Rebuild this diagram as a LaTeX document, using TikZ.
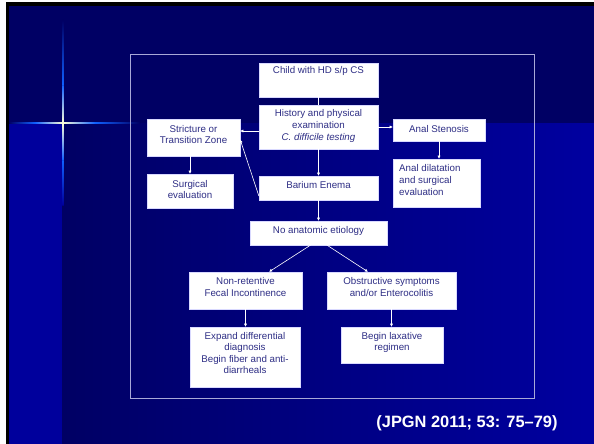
\documentclass[tikz,border=0pt]{standalone}
\usepackage{fontspec}
\setmainfont{Liberation Sans}
\usetikzlibrary{arrows.meta}
\definecolor{bgdark}{HTML}{000064}
\definecolor{bgbright}{HTML}{00009C}
\definecolor{bgright}{HTML}{0000A0}
\definecolor{txtcol}{HTML}{2E2E85}
\definecolor{framecol}{HTML}{A8A8D8}
\definecolor{starblue}{HTML}{1060FF}
\definecolor{starwhite}{HTML}{FFFFD8}
\begin{document}
\begin{tikzpicture}[x=1pt,y=-1pt,
  box/.style={rectangle, fill=white, draw=white!85!blue, line width=0.3pt, inner sep=0pt},
  txt/.style={inner sep=0pt, align=center, text=txtcol, font=\fontsize{9.75}{11.6}\selectfont},
  conn/.style={draw=white, line width=0.6pt},
  arr/.style={conn, -{Latex[length=3.2pt,width=3.2pt]}}]
\useasboundingbox (0,0) rectangle (594,444);
% background
\fill[white] (0,0) rectangle (594,444);
\fill[black] (6,2) rectangle (594,444);
\fill[bgdark] (9,6) rectangle (594,123);
\fill[bgbright] (9,123) rectangle (62,444);
\shade[left color=bgdark, right color=bgright] (62,123) rectangle (594,444);
% star flare
\shade[left color=bgdark, right color=starblue] (9,122.3) rectangle (35,123.7);
\shade[left color=starblue, right color=starwhite] (35,122.3) rectangle (63,123.7);
\shade[left color=starwhite, right color=starblue] (63,122.3) rectangle (95,123.7);
\shade[left color=starblue, right color=bgdark] (95,122.3) rectangle (140,123.7);
\shade[top color=bgdark, bottom color=starblue] (62.3,20) rectangle (63.7,85);
\shade[top color=starblue, bottom color=starwhite] (62.3,85) rectangle (63.7,123);
\shade[top color=starwhite, bottom color=starblue] (62.3,123) rectangle (63.7,160);
\shade[top color=starblue, bottom color=bgbright] (62.3,160) rectangle (63.7,205);
% frame
\draw[framecol, line width=0.8pt] (130,54) rectangle (534,398);
% boxes
\node[box, minimum width=119pt, minimum height=34pt] (child) at (318.5,80) {};
\node[box, minimum width=119pt, minimum height=44pt] (hist) at (318.5,127) {};
\node[box, minimum width=93pt, minimum height=37pt] (strict) at (193.5,137.5) {};
\node[box, minimum width=86pt, minimum height=34pt] (surg) at (190,191) {};
\node[box, minimum width=119pt, minimum height=24pt] (barium) at (318.5,188) {};
\node[box, minimum width=92pt, minimum height=22pt] (sten) at (439,130) {};
\node[box, minimum width=87pt, minimum height=48pt] (dilat) at (436.5,183) {};
\node[box, minimum width=137pt, minimum height=24pt] (noanat) at (318.5,233) {};
\node[box, minimum width=113pt, minimum height=37pt] (nonret) at (245.5,290.5) {};
\node[box, minimum width=129pt, minimum height=37pt] (obstr) at (391.5,290.5) {};
\node[box, minimum width=110pt, minimum height=60pt] (expand) at (245,357) {};
\node[box, minimum width=102pt, minimum height=36pt] (lax) at (392,345) {};
% texts
\node[txt] (child-t) at ([yshift=9pt]child.center) {Child with HD s/p CS};
\node[txt] (hist-t) at ([yshift=1pt]hist.center) {History and physical\\examination\\\textit{C. difficile testing}};
\node[txt] (strict-t) at ([yshift=3pt]strict.center) {Stricture or\\Transition Zone};
\node[txt] (surg-t) at ([yshift=1.5pt]surg.center) {Surgical\\evaluation};
\node[txt] (barium-t) at ([yshift=3pt]barium.center) {Barium Enema};
\node[txt] (sten-t) at ([yshift=1pt]sten.center) {Anal Stenosis};
\node[txt, align=left, anchor=west] (dilat-t) at (399,180) {Anal dilatation\\and surgical\\evaluation};
\node[txt] (noanat-t) at ([yshift=2pt]noanat.center) {No anatomic etiology};
\node[txt] (nonret-t) at ([yshift=3.5pt]nonret.center) {Non-retentive\\Fecal Incontinence};
\node[txt] (obstr-t) at ([yshift=3.5pt]obstr.center) {Obstructive symptoms\\and/or Enterocolitis};
\node[txt] (expand-t) at ([yshift=4pt]expand.center) {Expand differential\\diagnosis\\Begin fiber and anti-\\diarrheals};
\node[txt] (lax-t) at ([yshift=2.5pt]lax.center) {Begin laxative\\regimen};
% connector end points
\coordinate (hs) at ([yshift=-4pt]hist.west);
\coordinate (bs) at ([yshift=-8pt]barium.west);
\coordinate (se) at ([yshift=-2pt]strict.east);
\coordinate (nl) at ([xshift=-8pt]noanat.south);
\coordinate (nr) at ([xshift=8.5pt]noanat.south);
\coordinate (nrt) at ([xshift=23.5pt]nonret.north);
\coordinate (obt) at ([xshift=-23.5pt]obstr.north);
% connectors
\draw[conn] (child.south) -- (hist.north);
\draw[arr] (hs) -- (strict.east |- hs);
\draw[arr] (hist.east) -- (sten.west |- hist.east);
\draw[arr] (hist.south) -- (barium.north);
\draw[arr] (bs) -- (se);
\draw[arr] (surg.north |- strict.south) -- (surg.north);
\draw[arr] (sten.south) -- (sten.south |- dilat.north);
\draw[arr] (barium.south) -- (noanat.north);
\draw[arr] (nl) -- (nrt);
\draw[arr] (nr) -- (obt);
\draw[arr] (nonret.south) -- (nonret.south |- expand.north);
\draw[arr] (obstr.south) -- (obstr.south |- lax.north);
% citation
\node[inner sep=0pt, text=white, font=\bfseries\fontsize{16.4}{18}\selectfont] (cite) at (467,423) {(JPGN 2011; 53: 75–79)};
\end{tikzpicture}
\end{document}
